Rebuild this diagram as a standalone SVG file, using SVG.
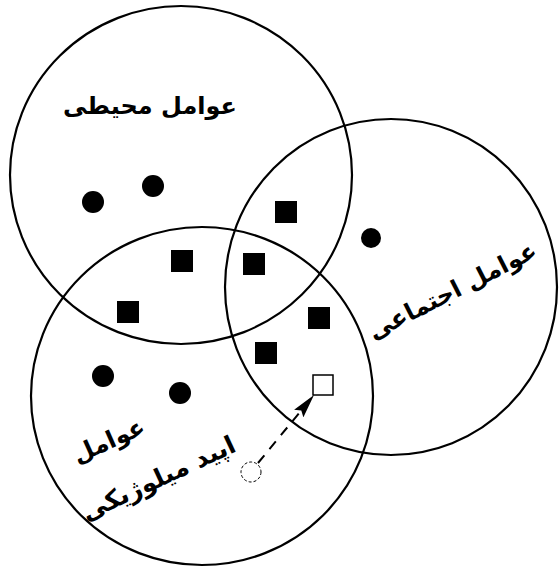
<svg xmlns="http://www.w3.org/2000/svg" width="559" height="570" viewBox="0 0 559 570">
<style>
.ring{fill:none;stroke:#000;stroke-width:2.2}
.dot{fill:#000}
.sq{fill:#000}
.lbl{font-family:"DejaVu Sans",sans-serif;font-size:24px;font-weight:bold;fill:#000;text-anchor:middle;direction:rtl}
</style>
<defs>
<marker id="ah" viewBox="0 0 24 12" refX="24" refY="6" markerWidth="24" markerHeight="12" markerUnits="userSpaceOnUse" orient="auto">
<path d="M0,0 L24,6 L0,12 L4,6 z" fill="#000"/>
</marker>
</defs>
<rect width="559" height="570" fill="#fff"/>
<g id="circle-environment">
<ellipse class="ring" cx="181" cy="175" rx="171" ry="169"/>
<text class="lbl" x="150" y="114">عوامل محیطی</text>
</g>
<g id="circle-social">
<ellipse class="ring" cx="391" cy="287" rx="166" ry="168"/>
<text class="lbl" transform="translate(456,298) rotate(-27)">عوامل اجتماعی</text>
</g>
<g id="circle-epidemiological">
<ellipse class="ring" cx="202" cy="396" rx="171" ry="169"/>
<text class="lbl" transform="translate(112,448) rotate(-24)">عوامل</text>
<text class="lbl" style="font-size:25px" transform="translate(162,486) rotate(-25)">اپید میلوژیکی</text>
</g>
<g id="dots">
<circle class="dot" cx="93" cy="202" r="11"/>
<circle class="dot" cx="153" cy="186" r="11"/>
<circle class="dot" cx="371" cy="238" r="10"/>
<circle class="dot" cx="103" cy="376" r="11"/>
<circle class="dot" cx="180" cy="393" r="11"/>
</g>
<g id="squares">
<rect class="sq" x="275" y="201" width="22" height="22"/>
<rect class="sq" x="243" y="253" width="22" height="22"/>
<rect class="sq" x="171" y="250" width="22" height="22"/>
<rect class="sq" x="117" y="301" width="22" height="22"/>
<rect class="sq" x="308" y="307" width="22" height="22"/>
<rect class="sq" x="255" y="342" width="22" height="22"/>
</g>
<g id="new-case">
<rect x="313" y="375" width="20" height="20" fill="#fff" stroke="#000" stroke-width="1.5"/>
</g>
<g id="source-case">
<circle cx="251" cy="472" r="10" fill="#fff" stroke="#000" stroke-width="1" stroke-dasharray="3,2"/>
</g>
<g id="connectors">
<line x1="258" y1="463" x2="314" y2="395" stroke="#000" stroke-width="2" stroke-dasharray="10,8" marker-end="url(#ah)"/>
</g>
</svg>
